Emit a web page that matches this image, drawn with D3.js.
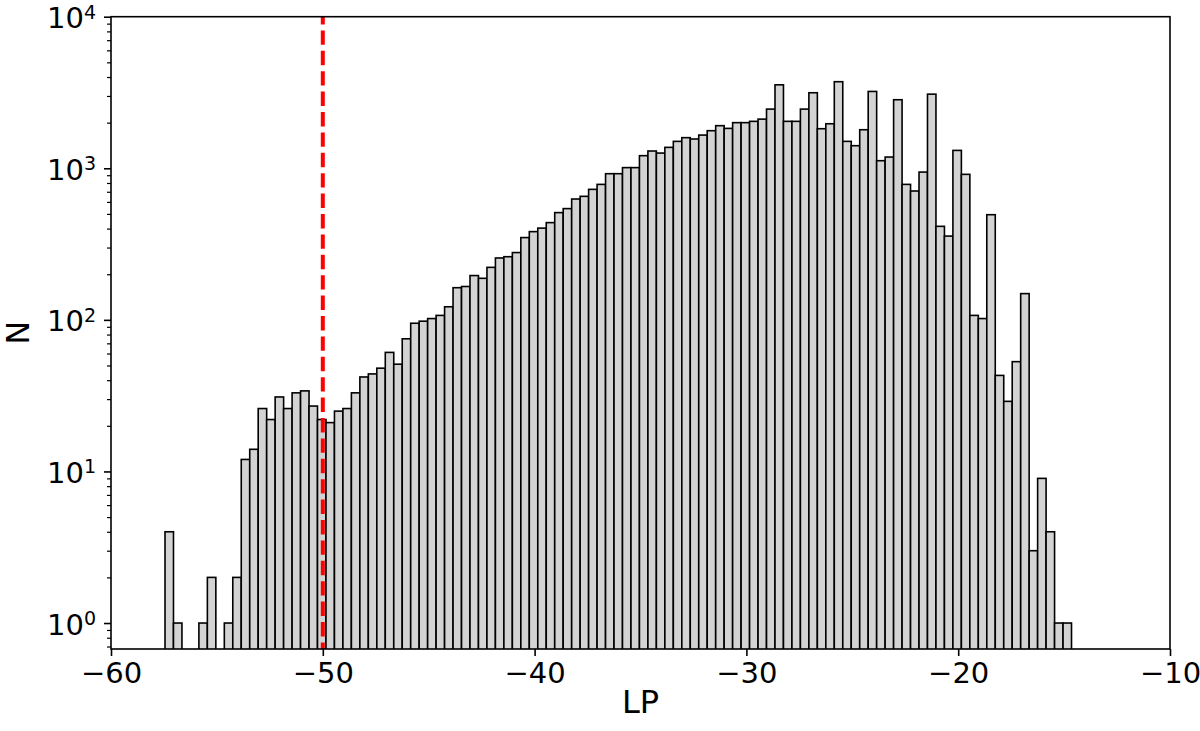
<!DOCTYPE html>
<html>
<head>
<meta charset="utf-8">
<script src="https://cdn.jsdelivr.net/npm/d3@7"></script>
<style>
  html, body { margin: 0; padding: 0; background: #fff; }
  svg { display: block; }
  text { font-family: "DejaVu Sans", sans-serif; fill: #000; }
</style>
</head>
<body>
<svg id="chart" width="1200" height="731"></svg>
<script>
// ---- data ----
const binStart = -57.45;   // left edge of first bin (LP)
const binWidth = 0.4;      // bin width (LP)
const counts = [
  4, 1, 0, 0, 1, 2, 0, 1, 2, 12,
  14, 26, 22, 31, 26, 33, 34, 27, 22, 21,
  25, 26, 33, 42, 44, 48, 61, 51, 75, 95,
  98, 102, 107, 122, 163, 166, 196, 188, 222, 256,
  261, 278, 349, 382, 403, 438, 510, 542, 627, 653,
  726, 783, 921, 921, 1010, 1010, 1211, 1300, 1260, 1374,
  1505, 1592, 1560, 1656, 1770, 1910, 1833, 2000, 2000, 2040,
  2110, 2457, 3553, 2040, 2040, 2457, 3150, 1824, 1967, 3725,
  1505, 1409, 1796, 3213, 1122, 1186, 2833, 783, 708, 944,
  3083, 414, 357, 1312, 912, 107, 102, 494, 43, 29,
  53, 149, 3, 9, 4, 1, 1
];
const threshold = -50;
const xTicks = [-60, -50, -40, -30, -20, -10];
const yTicks = [1, 10, 100, 1000, 10000];
const yTickExp = ["0", "1", "2", "3", "4"];
const xDomain = [-60, -10];
const yDomain = [0.674, 10000];
const xLabel = "LP";
const yLabel = "N";

// ---- layout ----
const L = 111, R = 1170, T = 16.7, B = 649;
const svg = d3.select("#chart");

const x = d3.scaleLinear().domain(xDomain).range([L, R]);
const y = d3.scaleLog().domain(yDomain).range([B, T]);

svg.append("defs").append("clipPath").attr("id", "clip")
  .append("rect").attr("x", L).attr("y", T).attr("width", R - L).attr("height", B - T);

const bins = counts.map((c, i) => ({
  x0: binStart + i * binWidth,
  x1: binStart + (i + 1) * binWidth,
  n: c
})).filter(d => d.n > 0);

const g = svg.append("g").attr("clip-path", "url(#clip)");
g.selectAll("rect.bar").data(bins).join("rect")
  .attr("class", "bar")
  .attr("x", d => x(d.x0))
  .attr("width", d => x(d.x1) - x(d.x0))
  .attr("y", d => y(d.n))
  .attr("height", d => B + 5 - y(d.n))
  .attr("fill", "#d3d3d3")
  .attr("stroke", "#000")
  .attr("stroke-width", 1.6);

// threshold line
g.append("line")
  .attr("x1", x(threshold)).attr("x2", x(threshold))
  .attr("y1", T).attr("y2", B)
  .attr("stroke", "#ff0000")
  .attr("stroke-width", 4)
  .attr("stroke-dasharray", "14.4,6")
  .attr("stroke-dashoffset", 6.7);

// x axis
const xAxis = d3.axisBottom(x).tickValues(xTicks).tickSize(7).tickPadding(6)
  .tickFormat(d => String(d).replace("-", "\u2212"));
const gx = svg.append("g").attr("transform", `translate(0,${B})`).call(xAxis);
gx.select(".domain").remove();
gx.selectAll(".tick line").attr("stroke", "#000").attr("stroke-width", 1.6);
gx.selectAll(".tick text").attr("font-size", 29).attr("font-family", "DejaVu Sans").attr("fill", "#000");

// y axis minor ticks
const minor = [];
for (let e = -1; e < 4; e++) {
  for (let m = 2; m <= 9; m++) {
    const v = m * Math.pow(10, e);
    if (v >= yDomain[0] && v <= yDomain[1]) minor.push(v);
  }
}
const gyMinor = svg.append("g").attr("transform", `translate(${L},0)`)
  .call(d3.axisLeft(y).tickValues(minor).tickSize(4).tickFormat(""));
gyMinor.select(".domain").remove();
gyMinor.selectAll(".tick line").attr("stroke", "#000").attr("stroke-width", 1.2);

// y axis major ticks
const gy = svg.append("g").attr("transform", `translate(${L},0)`)
  .call(d3.axisLeft(y).tickValues(yTicks).tickSize(7).tickPadding(7).tickFormat(""));
gy.select(".domain").remove();
gy.selectAll(".tick line").attr("stroke", "#000").attr("stroke-width", 1.6);
gy.selectAll(".tick").each(function(d) {
  const t = d3.select(this).select("text")
    .attr("font-size", 29).attr("font-family", "DejaVu Sans")
    .attr("text-anchor", "end").attr("dy", "0.38em").attr("x", -15);
  t.append("tspan").text("10");
  t.append("tspan").attr("font-size", 19).attr("dy", "-0.5em").text(yTickExp[yTicks.indexOf(d)]);
});

// frame
svg.append("rect").attr("x", L).attr("y", T).attr("width", R - L).attr("height", B - T)
  .attr("fill", "none").attr("stroke", "#000").attr("stroke-width", 1.6);

// axis labels
svg.append("text").attr("x", (L + R) / 2).attr("y", 713)
  .attr("text-anchor", "middle").attr("font-size", 32).text(xLabel);
svg.append("text").attr("transform", `translate(29,${(T + B) / 2}) rotate(-90)`)
  .attr("text-anchor", "middle").attr("font-size", 32).text(yLabel);
</script>
</body>
</html>
